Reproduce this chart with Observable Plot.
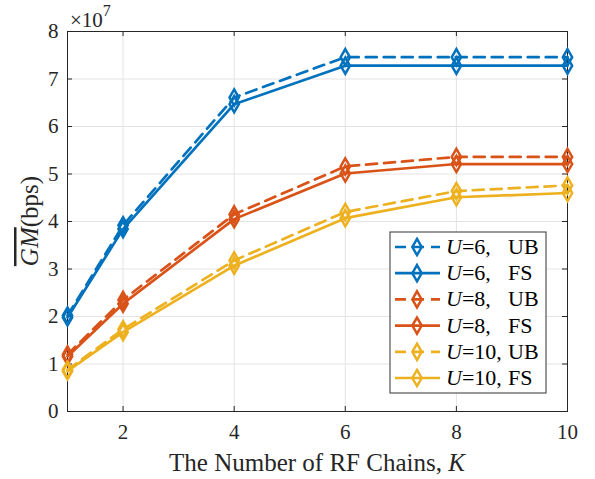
<!DOCTYPE html>
<html><head><meta charset="utf-8">
<script src="https://cdn.jsdelivr.net/npm/d3@7"></script>
<script src="https://cdn.jsdelivr.net/npm/@observablehq/plot@0.6"></script>
<style>
body{margin:0;background:#fff}
#chart{position:relative;width:595px;height:479px}
#chart svg, #chart svg text{font-family:'Liberation Serif', 'Times New Roman', serif !important; font-variant:normal !important}
</style>
</head><body><div id="chart"></div>
<script>
// Data (values in units of 1e7 bps)
const K = [1, 2, 4, 6, 8, 10];
const u6UB  = [2.02, 3.92, 6.61, 7.46, 7.46, 7.46];
const u6FS  = [1.98, 3.84, 6.47, 7.28, 7.28, 7.28];
const u8UB  = [1.20, 2.35, 4.15, 5.16, 5.36, 5.36];
const u8FS  = [1.16, 2.27, 4.05, 5.01, 5.21, 5.21];
const u10UB = [0.88, 1.73, 3.18, 4.20, 4.64, 4.76];
const u10FS = [0.85, 1.67, 3.07, 4.07, 4.51, 4.60];
const seriesU    = ["6", "6", "8", "8", "10", "10"];
const seriesType = ["UB", "FS", "UB", "FS", "UB", "FS"];
const seriesVals = [u6UB, u6FS, u8UB, u8FS, u10UB, u10FS];
const uColors = {"6": "#0072BD", "8": "#D95319", "10": "#EDB120"};
const xTicks = [2, 4, 6, 8, 10];
const yTicks = [0, 1, 2, 3, 4, 5, 6, 7, 8];

const rows = [];
seriesVals.forEach((vals, i) => {
  vals.forEach((v, j) => rows.push({k: K[j], v, u: seriesU[i], type: seriesType[i], s: i}));
});

const W = 595, H = 479, mL = 67, mR = 28, mT = 31, mB = 68;
const pw = W - mL - mR, ph = H - mT - mB;
const axisColor = "#262626";
const gridColor = "#e3e3e3";
const tickLen = 5;
const dotR = 4.9;

const plot = Plot.plot({
  width: W, height: H,
  marginLeft: mL, marginRight: mR, marginTop: mT, marginBottom: mB,
  style: {fontFamily: "'Liberation Serif', serif", fontSize: "21px", color: axisColor, background: "#fff"},
  x: {domain: [1, 10]},
  y: {domain: [0, 8]},
  marks: [
    Plot.gridX(xTicks, {stroke: gridColor, strokeOpacity: 1}),
    Plot.gridY(yTicks, {stroke: gridColor, strokeOpacity: 1}),
    Plot.axisX(xTicks, {tickSize: 0, tickPadding: 13, label: null, fontSize: 21}),
    Plot.axisY(yTicks, {tickSize: 0, tickPadding: 9, label: null, fontSize: 21}),
    Plot.tickX(xTicks, {x: d => d, insetTop: ph - tickLen, stroke: axisColor}),
    Plot.tickX(xTicks, {x: d => d, insetBottom: ph - tickLen, stroke: axisColor}),
    Plot.tickY(yTicks, {y: d => d, insetRight: pw - tickLen, stroke: axisColor}),
    Plot.tickY(yTicks, {y: d => d, insetLeft: pw - tickLen, stroke: axisColor}),
    Plot.frame({stroke: axisColor, strokeWidth: 1}),
    Plot.line(rows.filter(d => d.type === "UB"), {x: "k", y: "v", z: "s", stroke: d => uColors[d.u], strokeWidth: 2.7, strokeDasharray: "11,7"}),
    Plot.line(rows.filter(d => d.type === "FS"), {x: "k", y: "v", z: "s", stroke: d => uColors[d.u], strokeWidth: 2.7}),
    Plot.dot(rows, {x: "k", y: "v", symbol: "diamond", r: dotR, stroke: d => uColors[d.u], strokeWidth: 2.5, fill: "none"})
  ]
});
document.getElementById("chart").appendChild(plot);

const svg = d3.select(plot);
svg.selectAll("text").style("font-family", "'Liberation Serif', serif");

// x10^7 exponent label
const ex = svg.append("text").attr("x", 70).attr("y", 27).attr("text-anchor", "start")
  .attr("font-size", 21).attr("fill", axisColor);
ex.append("tspan").text("×10");
ex.append("tspan").attr("dy", -11).attr("font-size", 16).text("7");

// x axis label
const xl = svg.append("text").attr("x", mL + pw / 2).attr("y", 471).attr("text-anchor", "middle")
  .attr("font-size", 25).attr("fill", axisColor);
xl.append("tspan").text("The Number of RF Chains, ");
xl.append("tspan").attr("font-style", "italic").text("K");

// y axis label
const yl = svg.append("text").attr("transform", `translate(38,${mT + ph / 2}) rotate(-90)`).attr("text-anchor", "middle")
  .attr("font-size", 25).attr("fill", axisColor);
yl.append("tspan").attr("font-style", "italic").attr("text-decoration", "overline").text("GM");
yl.append("tspan").text("(bps)");

// legend
const lg = svg.append("g");
const lx = 390, ly = 232, lw = 156, lh = 161, rowH = 26.2, row0 = 247;
lg.append("rect").attr("x", lx).attr("y", ly).attr("width", lw).attr("height", lh)
  .attr("fill", "#fff").attr("stroke", "#333").attr("stroke-width", 1);
seriesU.forEach((u, i) => {
  const y = row0 + i * rowH;
  const c = uColors[u];
  lg.append("line").attr("x1", 395).attr("x2", 440).attr("y1", y).attr("y2", y)
    .attr("stroke", c).attr("stroke-width", 2.7)
    .attr("stroke-dasharray", seriesType[i] === "UB" ? "11,7" : null);
  const s = dotR * dotR * Math.PI;
  lg.append("path").attr("d", d3.symbol(d3.symbolDiamond, s)()).attr("transform", `translate(417,${y})`)
    .attr("fill", "none").attr("stroke", c).attr("stroke-width", 2.5);
  const t = lg.append("text").attr("x", 446).attr("y", y + 7).attr("text-anchor", "start")
    .attr("font-size", 22).attr("fill", "#000");
  t.append("tspan").attr("font-style", "italic").text("U");
  t.append("tspan").text("=" + u + ",");
  lg.append("text").attr("x", 508).attr("y", y + 7).attr("text-anchor", "start")
    .attr("font-size", 22).attr("fill", "#000").text(seriesType[i]);
});
</script>
</body></html>
